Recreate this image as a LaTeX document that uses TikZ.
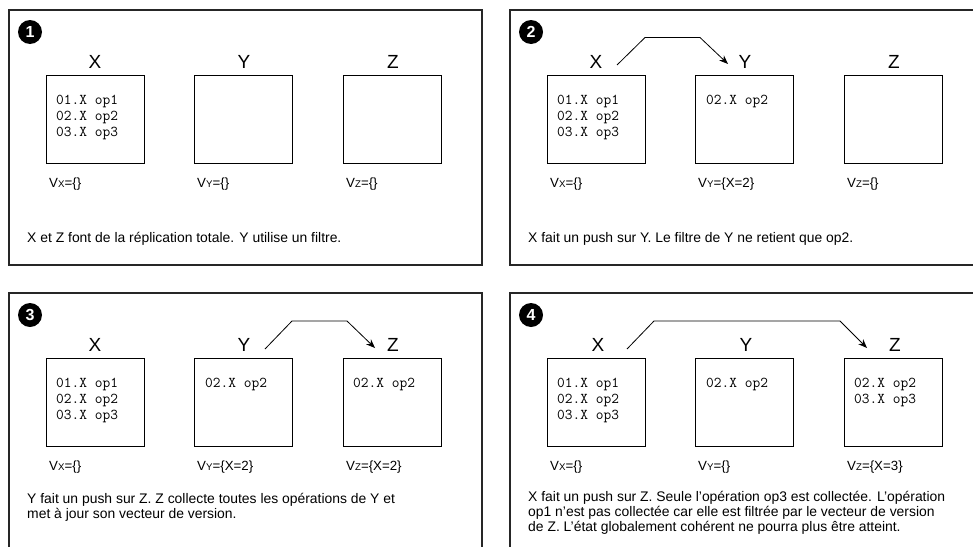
\documentclass[tikz,border=0pt]{standalone}
\usepackage{fontspec}
\setmainfont{Liberation Sans}
\usetikzlibrary{arrows.meta}
\tikzset{
  panelframe/.style={draw=black!85, line width=1.2pt},
  numdisc/.style={circle, fill=black, minimum size=24pt, inner sep=0pt, text=white, font=\fontsize{16}{16}\selectfont\bfseries},
  srvname/.style={anchor=base, inner sep=0pt, font=\fontsize{19}{19}\selectfont},
  srvbox/.style={draw=black, line width=0.8pt, minimum width=98pt, minimum height=88pt, inner sep=0pt},
  opline/.style={anchor=base west, inner sep=0pt, font=\ttfamily\fontsize{15}{16}\selectfont},
  vlabel/.style={anchor=base west, inner sep=0pt, font=\fontsize{13.3}{13.3}\selectfont},
  captxt/.style={anchor=base west, inner sep=0pt, align=left, font=\fontsize{13.9}{14.6}\selectfont},
  push/.style={draw=black, line width=0.8pt, -{Stealth[length=9pt,width=7pt]}},
}
\newcommand\vsub[1]{V{\fontsize{9.7}{9.7}\selectfont #1}}
\begin{document}
\begin{tikzpicture}[x=1pt,y=-1pt]
\useasboundingbox (0,0) rectangle (973,546);
\clip (0,0) rectangle (973,546);

% ---------- Panel 1 ----------
\begin{scope}
\draw[panelframe] (9,10) rectangle (482,265);
\node[numdisc] (n1) at (30,32) {1};
\node[srvname] (p1lx) at (95,68.5) {X};
\node[srvname] (p1ly) at (244,68.5) {Y};
\node[srvname] (p1lz) at (393,68.5) {Z};
\node[srvbox] (p1bx) at (95,119) {};
\node[srvbox] (p1by) at (243.5,119) {};
\node[srvbox] (p1bz) at (392,119) {};
\node[opline] (p1x1) at (56,104) {01.X op1};
\node[opline] (p1x2) at (56,120) {02.X op2};
\node[opline] (p1x3) at (56,136) {03.X op3};
\node[vlabel] (p1vx) at (49,187) {\vsub{X}=\{\}};
\node[vlabel] (p1vy) at (197,187) {\vsub{Y}=\{\}};
\node[vlabel] (p1vz) at (346,187) {\vsub{Z}=\{\}};
\node[captxt] (p1c) at (27,242) {X et Z font de la réplication totale. Y utilise un filtre.};
\end{scope}

% ---------- Panel 2 ----------
\begin{scope}[shift={(501,0)}]
\draw[panelframe] (9,10) rectangle (482,265);
\node[numdisc] (n2) at (30,32) {2};
\node[srvname] (p2lx) at (95,68.5) {X};
\node[srvname] (p2ly) at (244,68.5) {Y};
\node[srvname] (p2lz) at (393,68.5) {Z};
\node[srvbox] (p2bx) at (95,119) {};
\node[srvbox] (p2by) at (243.5,119) {};
\node[srvbox] (p2bz) at (392,119) {};
\node[opline] (p2x1) at (56,104) {01.X op1};
\node[opline] (p2x2) at (56,120) {02.X op2};
\node[opline] (p2x3) at (56,136) {03.X op3};
\node[opline] (p2y1) at (205,104) {02.X op2};
\node[vlabel] (p2vx) at (49,187) {\vsub{X}=\{\}};
\node[vlabel] (p2vy) at (197,187) {\vsub{Y}=\{X=2\}};
\node[vlabel] (p2vz) at (346,187) {\vsub{Z}=\{\}};
\node[captxt] (p2c) at (27,242) {X fait un push sur Y. Le filtre de Y ne retient que op2.};
\coordinate (p2s) at (116,65);
\coordinate (p2e) at (227,64);
\draw[push] (p2s) -- (144,37.5) -- (199,37.5) -- (p2e);
\end{scope}

% ---------- Panel 3 ----------
\begin{scope}[shift={(0,283)}]
\draw[panelframe] (9,10) rectangle (482,265);
\node[numdisc] (n3) at (30,32) {3};
\node[srvname] (p3lx) at (95,68.5) {X};
\node[srvname] (p3ly) at (244,68.5) {Y};
\node[srvname] (p3lz) at (393,68.5) {Z};
\node[srvbox] (p3bx) at (95,119) {};
\node[srvbox] (p3by) at (243.5,119) {};
\node[srvbox] (p3bz) at (392,119) {};
\node[opline] (p3x1) at (56,104) {01.X op1};
\node[opline] (p3x2) at (56,120) {02.X op2};
\node[opline] (p3x3) at (56,136) {03.X op3};
\node[opline] (p3y1) at (205,104) {02.X op2};
\node[opline] (p3z1) at (353,104) {02.X op2};
\node[vlabel] (p3vx) at (49,187) {\vsub{X}=\{\}};
\node[vlabel] (p3vy) at (197,187) {\vsub{Y}=\{X=2\}};
\node[vlabel] (p3vz) at (346,187) {\vsub{Z}=\{X=2\}};
\node[captxt] (p3c) at (27,235) {Y fait un push sur Z. Z collecte toutes les opérations de Y et\\met à jour son vecteur de version.};
\coordinate (p3s) at (265,66);
\coordinate (p3e) at (375,65);
\draw[push] (p3s) -- (292,38) -- (347,38) -- (p3e);
\end{scope}

% ---------- Panel 4 ----------
\begin{scope}[shift={(501,283)}]
\draw[panelframe] (9,10) rectangle (482,265);
\node[numdisc] (n4) at (30,32) {4};
\node[srvname] (p4lx) at (97,68.5) {X};
\node[srvname] (p4ly) at (245,68.5) {Y};
\node[srvname] (p4lz) at (394,68.5) {Z};
\node[srvbox] (p4bx) at (95,119) {};
\node[srvbox] (p4by) at (243.5,119) {};
\node[srvbox] (p4bz) at (392,119) {};
\node[opline] (p4x1) at (56,104) {01.X op1};
\node[opline] (p4x2) at (56,120) {02.X op2};
\node[opline] (p4x3) at (56,136) {03.X op3};
\node[opline] (p4y1) at (205,104) {02.X op2};
\node[opline] (p4z1) at (353,104) {02.X op2};
\node[opline] (p4z2) at (353,120) {03.X op3};
\node[vlabel] (p4vx) at (49,187) {\vsub{X}=\{\}};
\node[vlabel] (p4vy) at (197,187) {\vsub{Y}=\{\}};
\node[vlabel] (p4vz) at (346,187) {\vsub{Z}=\{X=3\}};
\node[captxt] (p4c) at (27,248) {X fait un push sur Z. Seule l’opération op3 est collectée. L’opération\\op1 n’est pas collectée car elle est filtrée par le vecteur de version\\de Z. L’état globalement cohérent ne pourra plus être atteint.};
\coordinate (p4s) at (126,66);
\coordinate (p4e) at (366,65);
\draw[push] (p4s) -- (153,38) -- (339,38) -- (p4e);
\end{scope}
\end{tikzpicture}
\end{document}
